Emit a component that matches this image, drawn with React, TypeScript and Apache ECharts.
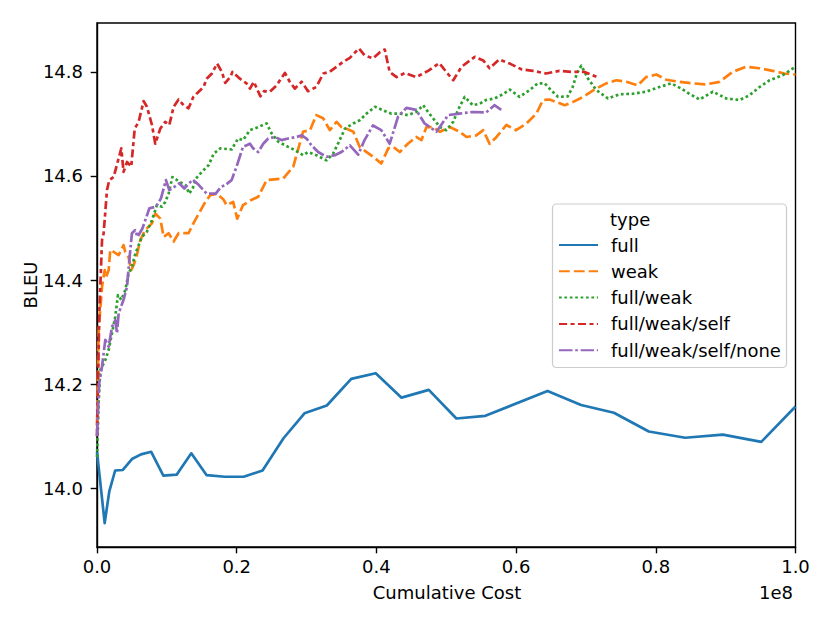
import React, { useEffect, useRef } from "react";
import * as echarts from "echarts";

// x values in units of 1e8 (Cumulative Cost), y values BLEU
const fullX = [0, 0.011, 0.0176, 0.026, 0.037, 0.05, 0.063, 0.0776, 0.095, 0.114, 0.135, 0.157, 0.183, 0.21, 0.237, 0.267, 0.297, 0.329, 0.364, 0.399, 0.436, 0.475, 0.5145, 0.556, 0.645, 0.693, 0.74, 0.79, 0.842, 0.896, 0.951, 1.0];
const fullY = [14.07, 13.933, 13.994, 14.034, 14.035, 14.056, 14.065, 14.07, 14.024, 14.026, 14.067, 14.025, 14.022, 14.022, 14.034, 14.096, 14.144, 14.159, 14.21, 14.221, 14.174, 14.189, 14.134, 14.139, 14.187, 14.16, 14.145, 14.109, 14.097, 14.103, 14.089, 14.157];

const weakX = [0, 0.0024, 0.0072, 0.011, 0.013, 0.0167, 0.019, 0.0238, 0.031, 0.038, 0.0405, 0.045, 0.049, 0.0525, 0.057, 0.062, 0.069, 0.0787, 0.0834, 0.0906, 0.0954, 0.1025, 0.1097, 0.1168, 0.131, 0.138, 0.155, 0.162, 0.1717, 0.181, 0.1855, 0.195, 0.2007, 0.209, 0.221, 0.2308, 0.2428, 0.2665, 0.281, 0.295, 0.305, 0.314, 0.3237, 0.3333, 0.343, 0.35, 0.357, 0.367, 0.376, 0.386, 0.3953, 0.407, 0.417, 0.424, 0.4335, 0.445, 0.457, 0.4645, 0.4717, 0.481, 0.491, 0.505, 0.519, 0.529, 0.543, 0.553, 0.562, 0.572, 0.586, 0.6, 0.615, 0.629, 0.6385, 0.648, 0.6695, 0.681, 0.696, 0.712, 0.729, 0.7435, 0.758, 0.774, 0.786, 0.8007, 0.815, 0.834, 0.853, 0.872, 0.8913, 0.91, 0.929, 0.9485, 0.9675, 0.984, 1.0];
const weakY = [14.12, 14.304, 14.387, 14.419, 14.406, 14.419, 14.458, 14.454, 14.448, 14.467, 14.454, 14.445, 14.419, 14.429, 14.448, 14.477, 14.496, 14.509, 14.528, 14.518, 14.483, 14.49, 14.474, 14.49, 14.49, 14.509, 14.55, 14.563, 14.566, 14.555, 14.544, 14.55, 14.518, 14.544, 14.554, 14.56, 14.592, 14.595, 14.618, 14.685, 14.688, 14.717, 14.711, 14.688, 14.704, 14.694, 14.691, 14.685, 14.656, 14.646, 14.637, 14.624, 14.653, 14.656, 14.646, 14.662, 14.675, 14.669, 14.694, 14.694, 14.685, 14.694, 14.685, 14.675, 14.678, 14.688, 14.662, 14.675, 14.698, 14.688, 14.701, 14.72, 14.746, 14.747, 14.736, 14.742, 14.752, 14.766, 14.778, 14.784, 14.781, 14.774, 14.79, 14.795, 14.785, 14.781, 14.778, 14.776, 14.781, 14.8, 14.81, 14.807, 14.802, 14.797, 14.795];

const fullWeakX = [0, 0.0025, 0.0047, 0.0119, 0.0167, 0.0215, 0.0262, 0.03, 0.0348, 0.0405, 0.0453, 0.05, 0.055, 0.0596, 0.0644, 0.0715, 0.0787, 0.0858, 0.093, 0.0977, 0.1025, 0.108, 0.118, 0.127, 0.132, 0.137, 0.1416, 0.1502, 0.16, 0.167, 0.1765, 0.1927, 0.202, 0.209, 0.2189, 0.2308, 0.2428, 0.25, 0.2594, 0.2737, 0.283, 0.295, 0.302, 0.314, 0.3286, 0.338, 0.345, 0.355, 0.367, 0.376, 0.386, 0.398, 0.41, 0.421, 0.4335, 0.445, 0.457, 0.467, 0.474, 0.481, 0.491, 0.5, 0.51, 0.519, 0.5265, 0.538, 0.548, 0.557, 0.569, 0.581, 0.591, 0.605, 0.6195, 0.631, 0.641, 0.65, 0.66, 0.674, 0.681, 0.687, 0.6934, 0.703, 0.715, 0.7315, 0.748, 0.767, 0.786, 0.805, 0.822, 0.8364, 0.848, 0.8627, 0.8817, 0.9008, 0.92, 0.934, 0.9485, 0.963, 0.982, 1.0];
const fullWeakY = [14.06, 14.17, 14.227, 14.246, 14.266, 14.298, 14.33, 14.371, 14.362, 14.381, 14.413, 14.426, 14.451, 14.467, 14.483, 14.493, 14.515, 14.544, 14.541, 14.55, 14.566, 14.598, 14.589, 14.582, 14.566, 14.576, 14.595, 14.608, 14.621, 14.643, 14.653, 14.651, 14.672, 14.669, 14.688, 14.694, 14.701, 14.682, 14.666, 14.656, 14.65, 14.64, 14.646, 14.64, 14.63, 14.643, 14.662, 14.691, 14.701, 14.707, 14.72, 14.733, 14.726, 14.72, 14.72, 14.717, 14.723, 14.736, 14.723, 14.711, 14.694, 14.688, 14.704, 14.733, 14.752, 14.736, 14.739, 14.746, 14.749, 14.757, 14.766, 14.752, 14.765, 14.778, 14.778, 14.765, 14.752, 14.753, 14.771, 14.797, 14.812, 14.787, 14.765, 14.749, 14.757, 14.758, 14.762, 14.771, 14.778, 14.768, 14.758, 14.747, 14.762, 14.749, 14.746, 14.755, 14.771, 14.784, 14.794, 14.81];

const fwsX = [0, 0.0033, 0.0072, 0.0095, 0.0143, 0.0176, 0.0238, 0.031, 0.0348, 0.038, 0.043, 0.049, 0.054, 0.0596, 0.0668, 0.0715, 0.0787, 0.0834, 0.0906, 0.0977, 0.1035, 0.1097, 0.1168, 0.124, 0.131, 0.138, 0.1455, 0.1526, 0.157, 0.1645, 0.172, 0.1788, 0.1836, 0.1907, 0.194, 0.2046, 0.214, 0.219, 0.2246, 0.2308, 0.234, 0.239, 0.2475, 0.257, 0.269, 0.276, 0.2833, 0.293, 0.302, 0.314, 0.324, 0.333, 0.343, 0.352, 0.362, 0.375, 0.383, 0.395, 0.405, 0.412, 0.419, 0.429, 0.441, 0.457, 0.474, 0.49, 0.5, 0.51, 0.522, 0.541, 0.553, 0.562, 0.576, 0.591, 0.6076, 0.624, 0.643, 0.662, 0.681, 0.698, 0.716];
const fwsY = [14.1, 14.336, 14.477, 14.49, 14.573, 14.592, 14.598, 14.634, 14.653, 14.608, 14.627, 14.618, 14.691, 14.704, 14.744, 14.733, 14.698, 14.662, 14.691, 14.704, 14.698, 14.733, 14.747, 14.736, 14.73, 14.752, 14.762, 14.771, 14.787, 14.797, 14.816, 14.8, 14.779, 14.79, 14.8, 14.787, 14.778, 14.768, 14.781, 14.762, 14.753, 14.763, 14.762, 14.774, 14.798, 14.781, 14.768, 14.781, 14.763, 14.771, 14.797, 14.8, 14.81, 14.819, 14.827, 14.845, 14.832, 14.826, 14.838, 14.843, 14.8, 14.79, 14.798, 14.79, 14.802, 14.817, 14.8, 14.784, 14.81, 14.829, 14.822, 14.807, 14.824, 14.816, 14.805, 14.802, 14.797, 14.802, 14.8, 14.8, 14.79];

const fwsnX = [0, 0.003, 0.0072, 0.0119, 0.0167, 0.0215, 0.0262, 0.0286, 0.031, 0.038, 0.043, 0.045, 0.0477, 0.05, 0.0548, 0.058, 0.065, 0.075, 0.0844, 0.0916, 0.0987, 0.1035, 0.1106, 0.1178, 0.125, 0.137, 0.1455, 0.157, 0.17, 0.1774, 0.183, 0.1927, 0.1998, 0.209, 0.219, 0.2236, 0.2308, 0.238, 0.2451, 0.2546, 0.264, 0.2737, 0.2857, 0.293, 0.3, 0.307, 0.3166, 0.3286, 0.3405, 0.35, 0.362, 0.374, 0.383, 0.395, 0.407, 0.419, 0.431, 0.443, 0.457, 0.469, 0.486, 0.5026, 0.519, 0.538, 0.557, 0.569, 0.579];
const fwsnY = [14.1, 14.2, 14.234, 14.285, 14.272, 14.31, 14.323, 14.298, 14.336, 14.362, 14.387, 14.419, 14.458, 14.49, 14.496, 14.483, 14.499, 14.538, 14.541, 14.557, 14.592, 14.573, 14.579, 14.586, 14.576, 14.593, 14.583, 14.566, 14.566, 14.579, 14.582, 14.592, 14.618, 14.656, 14.662, 14.653, 14.646, 14.662, 14.672, 14.675, 14.669, 14.672, 14.675, 14.678, 14.672, 14.659, 14.646, 14.637, 14.64, 14.646, 14.659, 14.641, 14.669, 14.697, 14.688, 14.662, 14.714, 14.731, 14.727, 14.701, 14.685, 14.717, 14.72, 14.723, 14.722, 14.736, 14.727];

const seriesNames = ["full", "weak", "full/weak", "full/weak/self", "full/weak/self/none"];
const xTicks = [0, 0.2, 0.4, 0.6, 0.8, 1.0];
const yTicks = [14.0, 14.2, 14.4, 14.6, 14.8];

const zip = (xs: number[], ys: number[]) => xs.map((x, i) => [x, ys[i]]);

export default function App() {
  const ref = useRef<HTMLDivElement>(null);
  useEffect(() => {
    if (!ref.current) return;
    const chart = echarts.init(ref.current, null, { renderer: "svg" });
    const font = "DejaVu Sans";
    const fs = 18;
    const lw = 2.7;
    const seriesData = [zip(fullX, fullY), zip(weakX, weakY), zip(fullWeakX, fullWeakY), zip(fwsX, fwsY), zip(fwsnX, fwsnY)];
    const colors = ["#1f77b4", "#ff7f0e", "#2ca02c", "#d62728", "#9467bd"];
    const dashes: any[] = ["solid", [10.8, 4.05], [2.7, 2.7], [8.1, 3.4, 4.05, 3.4], [13.5, 2.7, 2.7, 2.7]];
    const axisCommon = {
      axisLine: { show: true, onZero: false, lineStyle: { color: "#000", width: 1.4 } },
      axisTick: { show: true, length: 6.3, lineStyle: { color: "#000", width: 1.4 } },
      splitLine: { show: false },
    };
    const option: any = {
      animation: false,
      backgroundColor: "#ffffff",
      grid: { left: 97, right: 34.5, top: 23, bottom: 76, show: true, borderColor: "#000", borderWidth: 1.4 },
      xAxis: {
        type: "value",
        min: 0,
        max: 1,
        interval: 0.2,
        ...axisCommon,
        axisTick: { ...axisCommon.axisTick, customValues: xTicks },
        axisLabel: { customValues: xTicks, formatter: (v: number) => v.toFixed(1), color: "#000", fontFamily: font, fontSize: fs, margin: 9.5, lineHeight: 20 },
      },
      yAxis: {
        type: "value",
        min: 13.887,
        max: 14.894,
        ...axisCommon,
        axisTick: { ...axisCommon.axisTick, customValues: yTicks },
        axisLabel: { customValues: yTicks, formatter: (v: number) => v.toFixed(1), color: "#000", fontFamily: font, fontSize: fs, margin: 14 },
      },
      legend: {
        orient: "vertical",
        left: 558,
        top: 235,
        padding: 0,
        itemWidth: 39,
        itemHeight: 14,
        itemGap: 6.3,
        selectedMode: false,
        data: seriesNames,
        z: 20,
        itemStyle: { opacity: 0 },
        textStyle: { fontFamily: font, fontSize: fs, color: "#000", lineHeight: 20, padding: [0, 0, 0, 8] },
      },
      graphic: [
        { type: "rect", z: 10, shape: { x: 552.5, y: 204, width: 234, height: 163.5, r: 4 }, style: { fill: "rgba(255,255,255,0.8)", stroke: "#cccccc", lineWidth: 1.2 } },
        { type: "text", z: 11, x: 610, y: 219, style: { text: "type", fontFamily: font, fontSize: fs, fill: "#000", align: "left", verticalAlign: "middle" } },
        { type: "text", x: 447, y: 592, style: { text: "Cumulative Cost", fontFamily: font, fontSize: fs, fill: "#000", align: "center", verticalAlign: "middle" } },
        { type: "text", x: 776, y: 592, style: { text: "1e8", fontFamily: font, fontSize: fs, fill: "#000", align: "center", verticalAlign: "middle" } },
        { type: "text", x: 30, y: 285, rotation: Math.PI / 2, style: { text: "BLEU", fontFamily: font, fontSize: fs, fill: "#000", align: "center", verticalAlign: "middle" } },
      ],
      series: seriesNames.map((name, i) => ({
        type: "line",
        name,
        data: seriesData[i],
        symbol: "none",
        showSymbol: false,
        itemStyle: { color: colors[i] },
        lineStyle: { color: colors[i], width: lw, type: dashes[i], cap: "butt", join: "round" },
      })),
    };
    chart.setOption(option);
    return () => chart.dispose();
  }, []);
  return <div ref={ref} style={{ position: "fixed", left: 0, top: 0, width: 830, height: 623 }} />;
}
